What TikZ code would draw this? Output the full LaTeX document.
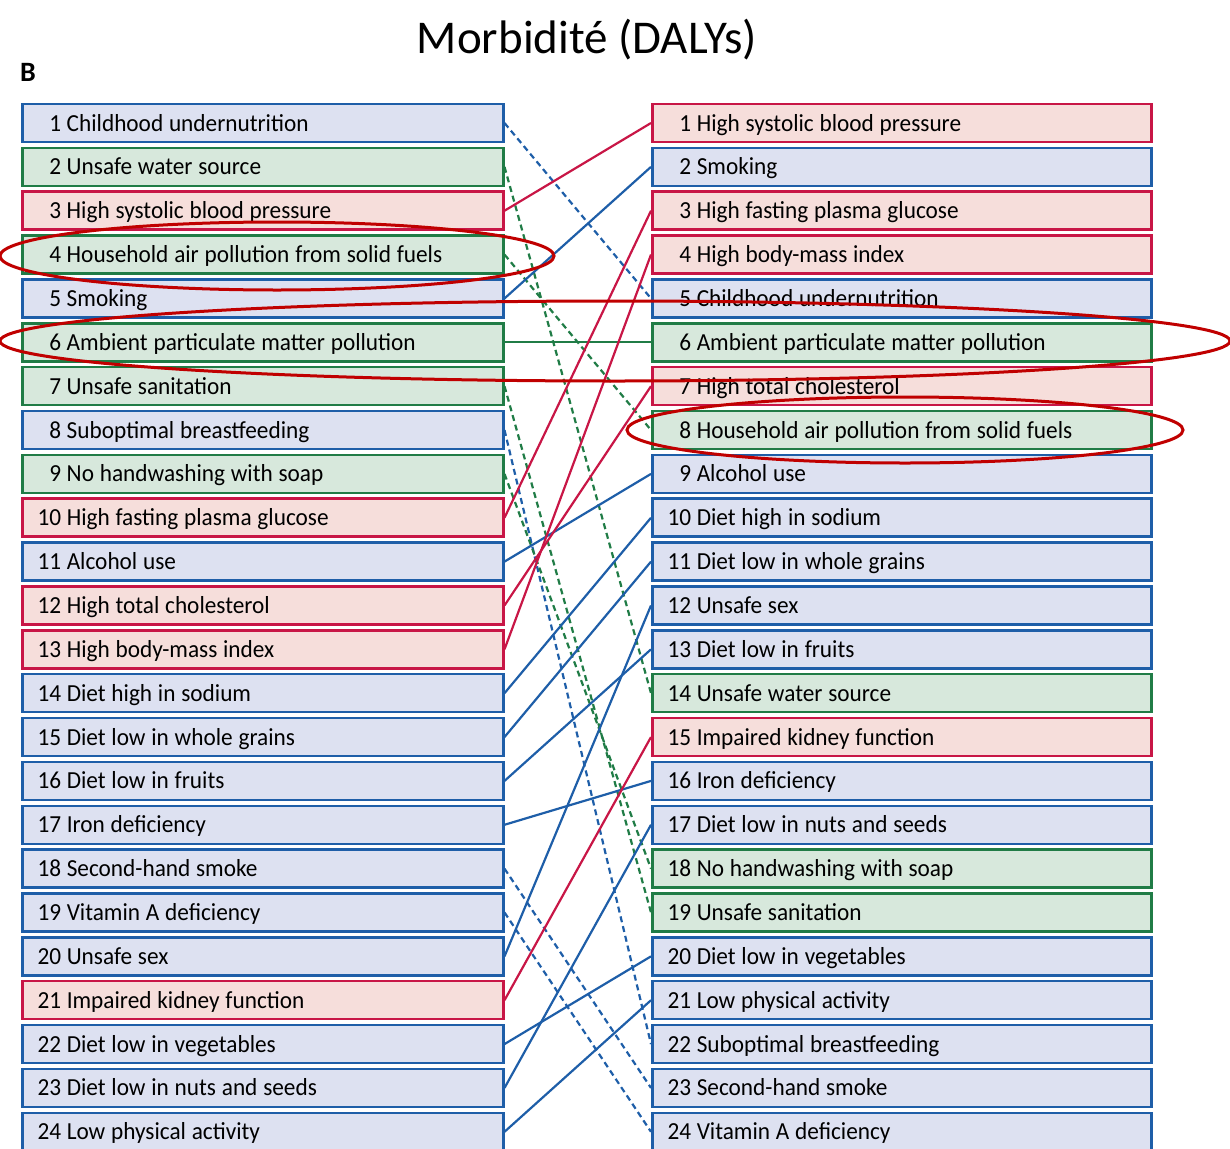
\documentclass[tikz,border=0pt]{standalone}
\usepackage{fontspec}
\setmainfont{Carlito}
\newfontfamily\boxfont{Carlito}[FakeStretch=0.95]
\newcommand\riskentry[2]{\spaceskip=5.8pt plus 1pt\relax\makebox[24pt][r]{#1}\hspace{5.5pt}#2}
\definecolor{bl}{RGB}{30,94,168}
\definecolor{blbg}{RGB}{221,225,241}
\definecolor{gr}{RGB}{32,124,70}
\definecolor{grbg}{RGB}{215,232,220}
\definecolor{rd}{RGB}{200,22,70}
\definecolor{rdbg}{RGB}{246,222,219}
\definecolor{ring}{RGB}{192,0,0}

\begin{document}
\begin{tikzpicture}[x=1pt, y=-1pt,
    box/.style={rectangle, draw, line width=2.5pt, minimum height=38pt, inner xsep=15pt, inner ysep=0pt,
        text height=19pt, text depth=3pt, align=left, anchor=west, font=\boxfont\fontsize{24.5}{27}\selectfont},
    lbox/.style={box, text width=451pt},
    rbox/.style={box, text width=469pt},
    catb/.style={draw=bl, fill=blbg},
    catg/.style={draw=gr, fill=grbg},
    catr/.style={draw=rd, fill=rdbg},
    link/.style={line width=2.2pt},
    down/.style={dash pattern=on 6pt off 4pt},
    ring/.style={draw=ring, line width=3pt}
]
    \useasboundingbox (0,0) rectangle (1230,1148);

    % Title and panel letter
    \node (title) at (587,40) {\fontsize{47}{52}\selectfont Morbidité (DALYs)};
    \node[font=\fontsize{28}{30}\selectfont\bfseries] (panel) at (28,72) {B};

    % Left column (1990)
    \foreach \r/\txt/\sty in {1/Childhood undernutrition/catb, 2/Unsafe water source/catg,
        3/High systolic blood pressure/catr, 4/Household air pollution from solid fuels/catg,
        5/Smoking/catb, 6/Ambient particulate matter pollution/catg, 7/Unsafe sanitation/catg,
        8/Suboptimal breastfeeding/catb, 9/No handwashing with soap/catg,
        10/High fasting plasma glucose/catr, 11/Alcohol use/catb, 12/High total cholesterol/catr,
        13/High body-mass index/catr, 14/Diet high in sodium/catb, 15/Diet low in whole grains/catb,
        16/Diet low in fruits/catb, 17/Iron deficiency/catb, 18/Second-hand smoke/catb,
        19/Vitamin A deficiency/catb, 20/Unsafe sex/catb, 21/Impaired kidney function/catr,
        22/Diet low in vegetables/catb, 23/Diet low in nuts and seeds/catb, 24/Low physical activity/catb}
        \node[lbox, \sty] (L\r) at (21,{123+(\r-1)*43.86}) {\riskentry{\r}{\txt}};

    % Right column (2010)
    \foreach \r/\txt/\sty in {1/High systolic blood pressure/catr, 2/Smoking/catb,
        3/High fasting plasma glucose/catr, 4/High body-mass index/catr, 5/Childhood undernutrition/catb,
        6/Ambient particulate matter pollution/catg, 7/High total cholesterol/catr,
        8/Household air pollution from solid fuels/catg, 9/Alcohol use/catb, 10/Diet high in sodium/catb,
        11/Diet low in whole grains/catb, 12/Unsafe sex/catb, 13/Diet low in fruits/catb,
        14/Unsafe water source/catg, 15/Impaired kidney function/catr, 16/Iron deficiency/catb,
        17/Diet low in nuts and seeds/catb, 18/No handwashing with soap/catg, 19/Unsafe sanitation/catg,
        20/Diet low in vegetables/catb, 21/Low physical activity/catb, 22/Suboptimal breastfeeding/catb,
        23/Second-hand smoke/catb, 24/Vitamin A deficiency/catb}
        \node[rbox, \sty] (R\r) at (651,{123+(\r-1)*43.86}) {\riskentry{\r}{\txt}};

    % Rank changes: solid = up or same, dashed = down
    \foreach \a/\b/\col/\ls in {1/5/bl/down, 2/14/gr/down, 3/1/rd/solid, 4/8/gr/down, 5/2/bl/solid,
        6/6/gr/solid, 7/19/gr/down, 8/22/bl/down, 9/18/gr/down, 10/3/rd/solid, 11/9/bl/solid,
        12/7/rd/solid, 13/4/rd/solid, 14/10/bl/solid, 15/11/bl/solid, 16/13/bl/solid, 17/16/bl/solid,
        18/23/bl/down, 19/24/bl/down, 20/12/bl/solid, 21/15/rd/solid, 22/20/bl/solid,
        23/17/bl/solid, 24/21/bl/solid}
        \draw[link, draw=\col, \ls] (L\a.east) -- (R\b.west);

    % Highlight rings
    \draw[ring] (277,256) ellipse [x radius=277pt, y radius=34pt];
    \draw[ring] (615,341) ellipse [x radius=615pt, y radius=40pt];
    \draw[ring] (905,430) ellipse [x radius=278pt, y radius=33pt];
\end{tikzpicture}
\end{document}
